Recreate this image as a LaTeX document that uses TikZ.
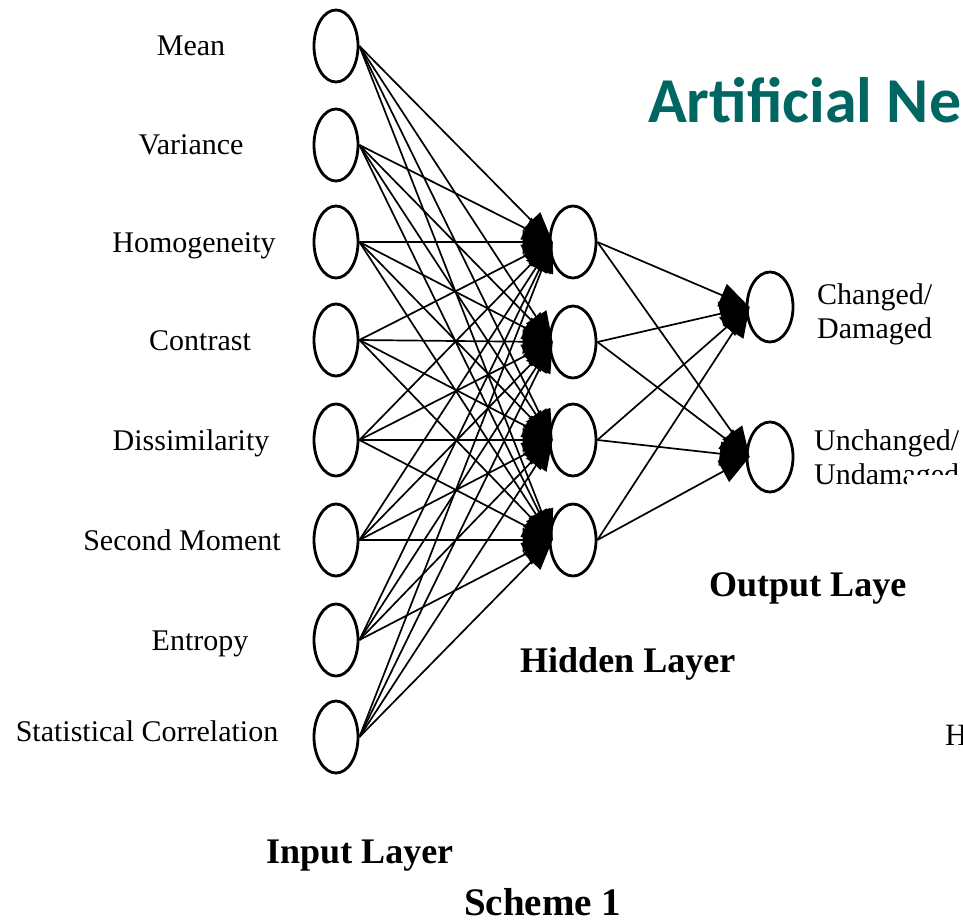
\documentclass[tikz,border=0pt]{standalone}
\usepackage{fontspec}
\setmainfont{Liberation Serif}
\newfontfamily\titlefont{Carlito}
\usetikzlibrary{shapes.geometric,arrows.meta}
\definecolor{titleteal}{RGB}{0,102,98}

\begin{document}
\begin{tikzpicture}[x=1pt,y=-1pt,
  neuron/.style={ellipse,draw,line width=2.8pt,minimum width=44pt,minimum height=72pt,inner sep=0pt},
  link/.style={line width=1.7pt,-{Triangle[length=30pt,width=24pt]}},
  feat/.style={font=\fontsize{30}{34}\selectfont,anchor=base,inner sep=0pt},
  outlab/.style={font=\fontsize{30}{34}\selectfont,anchor=base west,inner sep=0pt},
  layer/.style={font=\bfseries\fontsize{36}{40}\selectfont,anchor=base west,inner sep=0pt}]
\useasboundingbox (0,0) rectangle (963,923);

% title (runs off the right edge)
\begin{scope}
  \clip (0,0) rectangle (963,923);
  \node[anchor=base west,inner sep=0pt,text=titleteal,font=\titlefont\bfseries\fontsize{64}{70}\selectfont] (title) at (648,123) {Artificial Neural Network};
\end{scope}

% neurons
\foreach \y [count=\n] in {46,145,242,340,440,540,640,737}
  \node[neuron] (i\n) at (336,\y) {};
\foreach \y [count=\n] in {242,342,440,540}
  \node[neuron,minimum width=46pt] (h\n) at (573,\y) {};
\foreach \y [count=\n] in {307,457}
  \node[neuron,minimum width=46pt,minimum height=70pt] (o\n) at (770,\y) {};

% connections: every arrow ends on the left side of its target
\foreach \a in {1,...,8}
  \foreach \b in {1,...,4}
    \draw[link] (i\a.east) -- ([xshift=4pt]h\b.west);
\foreach \b in {1,...,4}
  \foreach \c in {1,2}
    \draw[link] (h\b.east) -- ([xshift=4pt]o\c.west);

% input features
\node[feat] (fmean) at (191,56) {Mean};
\node[feat] (fvar) at (191,154) {Variance};
\node[feat] (fhom) at (194,252) {Homogeneity};
\node[feat] (fcon) at (200,350) {Contrast};
\node[feat] (fdis) at (191,450) {Dissimilarity};
\node[feat] (fsec) at (182,550) {Second Moment};
\node[feat] (fent) at (200,650) {Entropy};
\node[feat] (fcor) at (147,741) {Statistical Correlation};

% outputs
\node[outlab] (oc1) at (817,304) {Changed/};
\node[outlab] (oc2) at (817,338) {Damaged};
\node[outlab] (ou1) at (814,450) {Unchanged/};
\node[outlab] (ou2) at (814,484) {Undamaged};

% layer captions
\node[layer] (lhid) at (520,672) {Hidden Layer};
\node[layer] (lout) at (709,596) {Output Layer};
\node[layer] (lin) at (266,863) {Input Layer};
\node[layer,font=\bfseries\fontsize{39}{44}\selectfont] (scheme) at (464,915) {Scheme 1};

% blank strip over the right margin
\fill[white] (907,475) rectangle (963,612);

\begin{scope}
  \clip (0,0) rectangle (963,923);
  \node[anchor=base west,inner sep=0pt,font=\fontsize{31}{34}\selectfont] (hcut) at (945,745) {H};
\end{scope}
\end{tikzpicture}
\end{document}
